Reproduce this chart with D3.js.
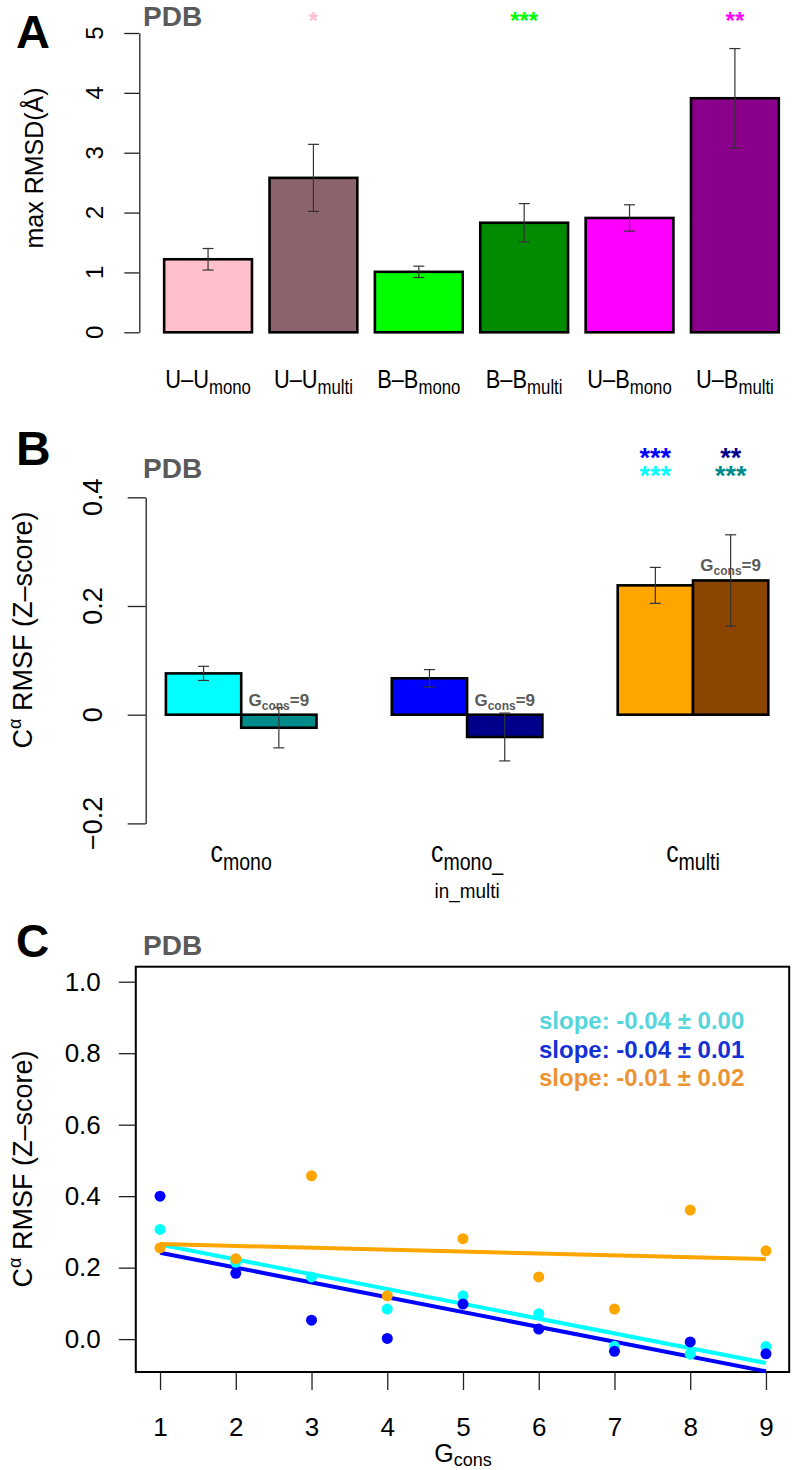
<!DOCTYPE html>
<html><head><meta charset="utf-8">
<script src="https://cdn.jsdelivr.net/npm/d3@7/dist/d3.min.js"></script>
<style>
body{margin:0;background:#fff;}
svg{display:block;font-family:"Liberation Sans",Arial,sans-serif;}
</style></head>
<body><svg id="chart" width="792" height="1470"></svg>
<script>
// ---------- Panel A data ----------
const labelsMainA = ["U–U","U–U","B–B","B–B","U–B","U–B"];
const labelsSubA  = ["mono","multi","mono","multi","mono","multi"];
const valuesA = [1.22, 2.58, 1.01, 1.83, 1.91, 3.91];
const errA    = [0.18, 0.56, 0.095, 0.32, 0.22, 0.83];
const colorsA = ["#FFC0CB","#8B636C","#00FF00","#008B00","#FF00FF","#8B008B"];
const starsA  = ["","*","","***","","**"];
const starColorsA = ["","#FFC0CB","","#00FF00","","#FF00FF"];
const ticksA = [0,1,2,3,4,5];

// ---------- Panel B data ----------
const groupsB = ["mono","mono_","multi"];
const allB     = [0.076, 0.067, 0.238];
const errAllB  = [0.013, 0.016, 0.033];
const g9B      = [-0.024, -0.041, 0.247];
const errG9B   = [0.037, 0.044, 0.084];
const colorsAllB = ["#00FFFF","#0000FF","#FFA500"];
const colorsG9B  = ["#008B8B","#00008B","#8B4500"];
const starsTopB  = [["",""],["",""],["***","**"]];
const starsBotB  = [["",""],["",""],["***","***"]];
const ticksB = [-0.2, 0, 0.2, 0.4];
const tickLabelsB = ["−0.2","0","0.2","0.4"];

// ---------- Panel C data ----------
const gcons   = [1,2,3,4,5,6,7,8,9];
const cyanC   = [0.307, 0.215, 0.174, 0.084, 0.121, 0.071, -0.020, -0.042, -0.021];
const blueC   = [0.400, 0.184, 0.053, 0.002, 0.098, 0.028, -0.034, -0.008, -0.041];
const orangeC = [0.255, 0.225, 0.457, 0.121, 0.281, 0.174, 0.084, 0.361, 0.247];
const colorsC = ["#00FFFF","#0000FF","#FFA500"];
const slopeLabels = ["slope: -0.04 ± 0.00","slope: -0.04 ± 0.01","slope: -0.01 ± 0.02"];
const slopeColors = ["#55D6DC","#1431D6","#EC9433"];
const ticksCy = [0,0.2,0.4,0.6,0.8,1.0];
const ticksCx = [1,2,3,4,5,6,7,8,9];

const svg = d3.select("#chart");
const axisCol = "#222";
const errCol = "#333";

// ================= PANEL A =================
const gA = svg.append("g");
const xA = d3.scaleLinear().domain([0, 7.2]).range([146.6, 778.8]);
const yA = d3.scaleLinear().domain([0, 5]).range([332.3, 33]);
const bw = xA(1) - xA(0);

gA.append("text").attr("x",16).attr("y",48).attr("font-size",47).attr("font-weight","bold").text("A");
gA.append("text").attr("x",143).attr("y",26).attr("font-size",28).attr("font-weight","bold").attr("fill","#5a5a5a").text("PDB");

const axA = gA.append("g").attr("transform","translate(139.3,0)")
  .call(d3.axisLeft(yA).tickValues(ticksA).tickSize(15).tickSizeOuter(0).tickFormat(""));
axA.selectAll("path,line").attr("stroke",axisCol).attr("stroke-width",1.3);
ticksA.forEach(t=>{
  gA.append("text").attr("transform",`translate(103,${yA(t)}) rotate(-90)`)
    .attr("text-anchor","middle").attr("font-size",24).text(t);
});
gA.append("text").attr("transform",`translate(43,168) rotate(-90)`)
  .attr("text-anchor","middle").attr("font-size",25).text("max RMSD(Å)");

valuesA.forEach((v,i)=>{
  const left = xA(0.2 + 1.2*i), cx = left + bw/2;
  gA.append("rect").attr("x",left).attr("y",yA(v)).attr("width",bw).attr("height",yA(0)-yA(v))
    .attr("fill",colorsA[i]).attr("stroke","#000").attr("stroke-width",2.6);
  const lo = yA(v-errA[i]), hi = yA(v+errA[i]);
  gA.append("line").attr("x1",cx).attr("x2",cx).attr("y1",lo).attr("y2",hi).attr("stroke",errCol).attr("stroke-width",1.2);
  [lo,hi].forEach(yy=>gA.append("line").attr("x1",cx-5.5).attr("x2",cx+5.5).attr("y1",yy).attr("y2",yy).attr("stroke",errCol).attr("stroke-width",1.2));
  const t = gA.append("text").attr("transform",`translate(${cx},388) scale(0.84,1)`)
    .attr("text-anchor","middle").attr("font-size",26);
  t.append("tspan").text(labelsMainA[i]);
  t.append("tspan").attr("font-size",20).attr("dy",6).text(labelsSubA[i]);
  if (starsA[i]) {
    gA.append("text").attr("x",cx).attr("y",29).attr("text-anchor","middle").attr("font-size",24)
      .attr("font-weight","bold").attr("fill",starColorsA[i]).text(starsA[i]);
  }
});

// ================= PANEL B =================
const gB = svg.append("g");
const xB = d3.scaleLinear().domain([0, 9]).range([90.6, 768.3]);
const yB = d3.scaleLinear().domain([-0.2, 0.4]).range([823.4, 497.3]);
const bwB = xB(1) - xB(0);

gB.append("text").attr("x",16).attr("y",465).attr("font-size",48).attr("font-weight","bold").text("B");
gB.append("text").attr("x",143).attr("y",478).attr("font-size",28).attr("font-weight","bold").attr("fill","#5a5a5a").text("PDB");

const axB = gB.append("g").attr("transform","translate(145.7,0)")
  .call(d3.axisLeft(yB).tickValues(ticksB).tickSize(18).tickSizeOuter(0).tickFormat(""));
axB.selectAll("path,line").attr("stroke",axisCol).attr("stroke-width",1.3);
ticksB.forEach((t,i)=>{
  gB.append("text").attr("transform",`translate(102,${yB(t)}) rotate(-90)`)
    .attr("text-anchor","middle").attr("font-size",27).text(tickLabelsB[i]);
});
function ylabelRMSF(g, cy){
  const t = g.append("text").attr("transform",`translate(32,${cy}) rotate(-90)`)
    .attr("text-anchor","middle").attr("font-size",27);
  t.append("tspan").text("C");
  t.append("tspan").attr("font-size",18).attr("dy",-11).text("α");
  t.append("tspan").attr("dy",11).text(" RMSF (Z–score)");
}
ylabelRMSF(gB, 630);

function errBar(g, cx, v, e){
  const lo = yB(v-e), hi = yB(v+e);
  g.append("line").attr("x1",cx).attr("x2",cx).attr("y1",lo).attr("y2",hi).attr("stroke",errCol).attr("stroke-width",1.2);
  [lo,hi].forEach(yy=>g.append("line").attr("x1",cx-5.5).attr("x2",cx+5.5).attr("y1",yy).attr("y2",yy).attr("stroke",errCol).attr("stroke-width",1.2));
}
groupsB.forEach((gname,i)=>{
  const l1 = xB(1+3*i), l2 = xB(2+3*i);
  const v1 = allB[i], v2 = g9B[i];
  gB.append("rect").attr("x",l1).attr("y",yB(Math.max(0,v1))).attr("width",bwB).attr("height",Math.abs(yB(v1)-yB(0)))
    .attr("fill",colorsAllB[i]).attr("stroke","#000").attr("stroke-width",2.6);
  gB.append("rect").attr("x",l2).attr("y",yB(Math.max(0,v2))).attr("width",bwB).attr("height",Math.abs(yB(v2)-yB(0)))
    .attr("fill",colorsG9B[i]).attr("stroke","#000").attr("stroke-width",2.6);
  errBar(gB, l1+bwB/2, v1, errAllB[i]);
  errBar(gB, l2+bwB/2, v2, errG9B[i]);
  const gl = gB.append("text").attr("x",l2+bwB/2).attr("y",yB(Math.max(0,v2))-9).attr("text-anchor","middle")
    .attr("font-size",17).attr("font-weight","bold").attr("fill","#5a5a5a");
  gl.append("tspan").text("G");
  gl.append("tspan").attr("font-size",12).attr("dy",4).text("cons");
  gl.append("tspan").attr("dy",-4).text("=9");
  [[starsTopB[i][0], colorsAllB[1], 467, l1],[starsTopB[i][1], colorsG9B[1], 467, l2],
   [starsBotB[i][0], colorsAllB[0], 485, l1],[starsBotB[i][1], colorsG9B[0], 485, l2]].forEach(s=>{
    if (s[0]) gB.append("text").attr("x",s[3]+bwB/2).attr("y",s[2]).attr("text-anchor","middle")
      .attr("font-size",27).attr("font-weight","bold").attr("fill",s[1]).text(s[0]);
  });
  const cxg = xB(2+3*i);
  const ct = gB.append("text").attr("transform",`translate(${cxg},862) scale(0.85,1)`)
    .attr("text-anchor","middle").attr("font-size",29);
  ct.append("tspan").text("c");
  ct.append("tspan").attr("font-size",23).attr("dy",8).text(gname);
  if (gname === "mono_") {
    gB.append("text").attr("transform",`translate(${cxg},898) scale(0.9,1)`).attr("text-anchor","middle").attr("font-size",21).text("in_multi");
  }
});

// ================= PANEL C =================
const gC = svg.append("g");
const xC = d3.scaleLinear().domain([0.68, 9.32]).range([135.8, 790.2]);
const yC = d3.scaleLinear().domain([-0.092, 1.042]).range([1372, 966.7]);

gC.append("text").attr("x",16).attr("y",957).attr("font-size",46).attr("font-weight","bold").text("C");
gC.append("text").attr("x",143).attr("y",955).attr("font-size",28).attr("font-weight","bold").attr("fill","#5a5a5a").text("PDB");

const axCy = gC.append("g").attr("transform",`translate(${xC.range()[0]},0)`)
  .call(d3.axisLeft(yC).tickValues(ticksCy).tickSize(17).tickPadding(18).tickSizeOuter(0).tickFormat(d3.format(".1f")));
axCy.select("path").remove();
axCy.selectAll("line").attr("stroke",axisCol).attr("stroke-width",1.3);
axCy.selectAll("text").attr("font-size",26).attr("fill","#000").attr("font-family","Liberation Sans, Arial, sans-serif");

const axCx = gC.append("g").attr("transform",`translate(0,${yC.range()[0]})`)
  .call(d3.axisBottom(xC).tickValues(ticksCx).tickSize(18).tickPadding(28).tickSizeOuter(0).tickFormat(d3.format("d")));
axCx.select("path").remove();
axCx.selectAll("line").attr("stroke",axisCol).attr("stroke-width",1.3);
axCx.selectAll("text").attr("font-size",26).attr("fill","#000").attr("font-family","Liberation Sans, Arial, sans-serif");

gC.append("rect").attr("x",xC.range()[0]).attr("y",yC.range()[1])
  .attr("width",xC.range()[1]-xC.range()[0]-1).attr("height",yC.range()[0]-yC.range()[1])
  .attr("fill","none").attr("stroke","#000").attr("stroke-width",2);

ylabelRMSF(gC, 1169);
const xl = gC.append("text").attr("x",463).attr("y",1462).attr("text-anchor","middle").attr("font-size",25);
xl.append("tspan").text("G");
xl.append("tspan").attr("font-size",18).attr("dy",4).text("cons");

function fit(ys){
  const mx = d3.mean(gcons), my = d3.mean(ys);
  const sxy = d3.sum(gcons, (x,i)=>(x-mx)*(ys[i]-my));
  const sxx = d3.sum(gcons, x=>(x-mx)*(x-mx));
  const b = sxy/sxx; return {a: my - b*mx, b};
}
const seriesC = [cyanC, blueC, orangeC];
const line = d3.line().x(d=>xC(d[0])).y(d=>yC(d[1]));
seriesC.forEach((ys,k)=>{
  const f = fit(ys);
  const pts = [[1, f.a+f.b*1],[9, f.a+f.b*9]];
  gC.append("path").attr("d",line(pts)).attr("stroke",colorsC[k]).attr("stroke-width",4).attr("fill","none");
});
seriesC.forEach((ys,k)=>{
  gC.selectAll(null).data(ys).enter().append("circle")
    .attr("cx",(d,i)=>xC(gcons[i])).attr("cy",d=>yC(d)).attr("r",5.5).attr("fill",colorsC[k]);
});
slopeLabels.forEach((s,k)=>{
  gC.append("text").attr("x",539).attr("y",[1029,1058,1086][k]).attr("font-size",24).attr("font-weight","bold")
    .attr("fill",slopeColors[k]).text(s);
});
</script></body></html>
